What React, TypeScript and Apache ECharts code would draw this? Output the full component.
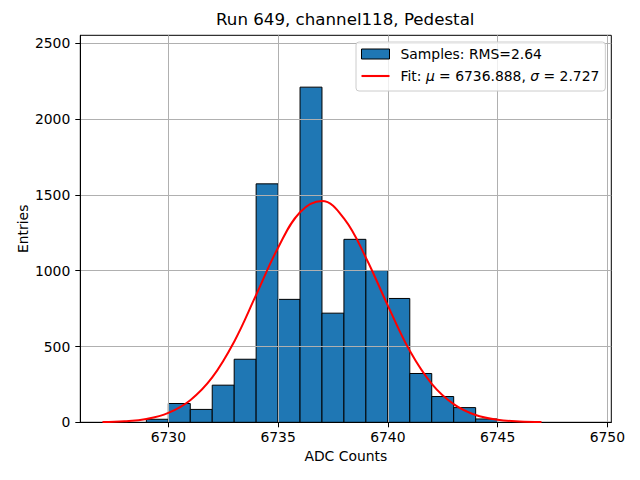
import React, { useEffect, useRef } from 'react';
import * as echarts from 'echarts';

// ---- data ----
const binStarts = [6729, 6730, 6731, 6732, 6733, 6734, 6735, 6736, 6737, 6738, 6739, 6740, 6741, 6742, 6743, 6744];
const binEnds = [6730, 6731, 6732, 6733, 6734, 6735, 6736, 6737, 6738, 6739, 6740, 6741, 6742, 6743, 6744, 6745];
const counts = [20, 124, 85, 245, 416, 1573, 811, 2211, 720, 1207, 1001, 817, 322, 170, 97, 22];

const fitX = [6727, 6728, 6729, 6730, 6731, 6732, 6733, 6734, 6735, 6736, 6737, 6738, 6739, 6740, 6741, 6742, 6743, 6744, 6745, 6746, 6747];
const fitY = [2, 7, 22, 62, 146, 296, 532, 840, 1152, 1386, 1460, 1345, 1086, 770, 472, 254, 120, 48, 17, 5, 1.5];

const xTicks = [6730, 6735, 6740, 6745, 6750];
const yTicks = [0, 500, 1000, 1500, 2000, 2500];

const titleText = 'Run 649, channel118, Pedestal';
const xName = 'ADC Counts';
const yName = 'Entries';
const samplesName = 'Samples: RMS=2.64';
const fitName = 'Fit: μ = 6736.888, σ = 2.727';

const FONT = 'DejaVu Sans';
const FS = 13.9;

export default function App() {
  const ref = useRef<HTMLDivElement>(null);
  useEffect(() => {
    const chart = echarts.init(ref.current!, null, { renderer: 'svg' });
    const histData = binStarts.map((s, i) => [s, binEnds[i], counts[i]]);
    const fitData = fitX.map((x, i) => [x, fitY[i]]);
    const option: any = {
      animation: false,
      backgroundColor: '#ffffff',
      title: {
        text: titleText,
        left: 216,
        top: 11,
        padding: 0,
        textStyle: { fontFamily: FONT, fontSize: 16.67, fontWeight: 'normal', color: '#000' },
      },
      grid: {
        left: 80.3,
        top: 35.3,
        right: 28.7,
        bottom: 57.7,
        show: true,
        borderColor: '#000',
        borderWidth: 1,
        backgroundColor: 'transparent',
        containLabel: false,
        outerBoundsMode: 'none',
      },
      legend: {
        orient: 'vertical',
        left: 356,
        top: 42,
        z: 10,
        padding: [4, 6, 7, 5],
        itemWidth: 28,
        itemHeight: 10,
        itemGap: 6,
        backgroundColor: 'rgba(255,255,255,0.8)',
        borderColor: '#cccccc',
        borderWidth: 1,
        borderRadius: 3,
        selectedMode: false,
        symbolKeepAspect: true,
        textStyle: {
          fontFamily: FONT,
          fontSize: FS,
          color: '#000',
          lineHeight: 16,
          padding: [0, 0, 0, 6],
          rich: {
            i: { fontFamily: FONT, fontSize: FS, fontStyle: 'italic', color: '#000', lineHeight: 16 },
          },
        },
        formatter: (name: string) =>
          name === fitName ? 'Fit: {i|μ} = 6736.888, {i|σ} = 2.727' : name,
        data: [
          { name: samplesName, icon: 'rect', itemStyle: { color: '#1f77b4', borderColor: '#000', borderWidth: 1 } },
          { name: fitName, icon: 'path://M0,0L28,0L28,2.1L0,2.1Z', itemStyle: { color: '#ff0000', borderWidth: 0 } },
        ],
      },
      xAxis: {
        type: 'value',
        min: 6725.99,
        max: 6750.18,
        z: 3,
        name: xName,
        nameLocation: 'middle',
        nameGap: 27,
        nameMoveOverlap: false,
        nameTextStyle: { fontFamily: FONT, fontSize: FS, color: '#000' },
        axisLine: { show: true, onZero: false, lineStyle: { color: '#000', width: 1 } },
        axisTick: { show: true, inside: false, length: 5, customValues: xTicks, lineStyle: { color: '#000', width: 1 } },
        axisLabel: {
          customValues: xTicks,
          margin: 8,
          fontFamily: FONT,
          fontSize: FS,
          color: '#000',
          formatter: (v: number) => String(v),
        },
        splitLine: { show: true, lineStyle: { color: '#b0b0b0', width: 1 } },
      },
      yAxis: {
        type: 'value',
        min: 0,
        max: 2553,
        interval: 500,
        z: 3,
        name: yName,
        nameLocation: 'middle',
        nameGap: 50,
        nameMoveOverlap: false,
        nameTextStyle: { fontFamily: FONT, fontSize: FS, color: '#000' },
        axisLine: { show: true, onZero: false, lineStyle: { color: '#000', width: 1 } },
        axisTick: { show: true, inside: false, length: 5, customValues: yTicks, lineStyle: { color: '#000', width: 1 } },
        axisLabel: {
          customValues: yTicks,
          margin: 10,
          fontFamily: FONT,
          fontSize: FS,
          color: '#000',
          formatter: (v: number) => String(v),
        },
        splitLine: { show: true, lineStyle: { color: '#b0b0b0', width: 1 } },
      },
      series: [
        {
          name: samplesName,
          type: 'custom',
          z: 2,
          itemStyle: { color: '#1f77b4', borderColor: '#000', borderWidth: 1 },
          encode: { x: [0, 1], y: 2 },
          data: histData,
          renderItem: (params: any, api: any) => {
            const p0 = api.coord([api.value(0), api.value(2)]);
            const p1 = api.coord([api.value(1), 0]);
            return {
              type: 'rect',
              shape: { x: p0[0], y: p0[1], width: p1[0] - p0[0], height: p1[1] - p0[1] },
              style: { fill: '#1f77b4', stroke: '#000', lineWidth: 1 },
            };
          },
        },
        {
          name: fitName,
          type: 'line',
          z: 5,
          data: fitData,
          smooth: 0.4,
          symbol: 'none',
          showSymbol: false,
          color: '#ff0000',
          lineStyle: { color: '#ff0000', width: 2 },
        },
      ],
    };
    chart.setOption(option);
    return () => chart.dispose();
  }, []);
  return <div ref={ref} style={{ position: 'fixed', left: 0, top: 0, width: 640, height: 480 }} />;
}
